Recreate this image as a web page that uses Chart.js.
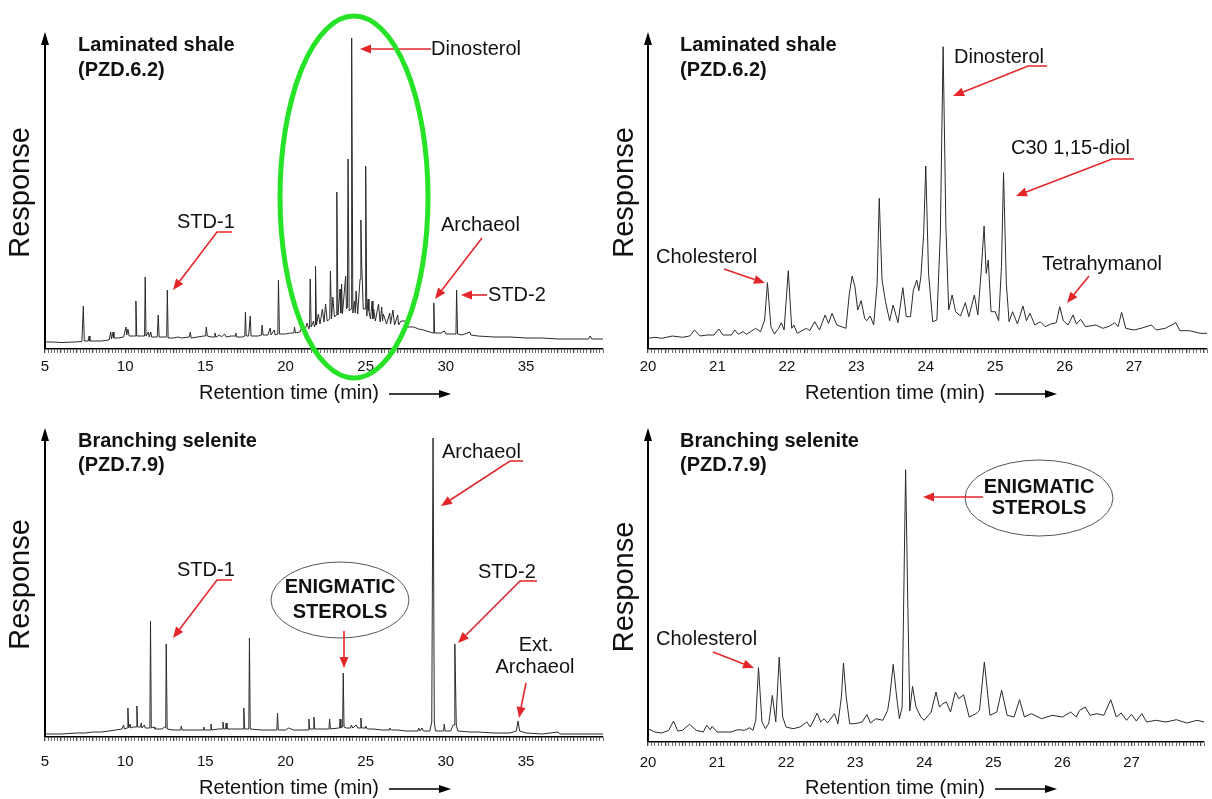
<!DOCTYPE html>
<html><head><meta charset="utf-8">
<script src="https://cdn.jsdelivr.net/npm/chart.js@4.4.1/dist/chart.umd.min.js"></script>
<style>
html,body{margin:0;padding:0;background:#fff;}
#wrap{position:relative;width:1212px;height:799px;overflow:hidden;background:#fff;}
#wrap canvas{position:absolute;left:0;top:0;}
</style></head><body><div id="wrap">
<canvas id="pTL" width="1212" height="799"></canvas>
<canvas id="pTR" width="1212" height="799"></canvas>
<canvas id="pBL" width="1212" height="799"></canvas>
<canvas id="pBR" width="1212" height="799"></canvas>
</div>
<script>
// ---------- DATA (retention time in min, response in relative units) ----------
// Laminated shale (PZD.6.2), full run 5-40 min
const shaleFullTime = [5.0,5.5,6.0,6.8,7.3,7.39,7.45,7.7,7.75,7.8,8.5,9.0,9.1,9.15,9.25,9.3,9.6,9.9,10.05,10.1,10.17,10.25,10.5,10.63,10.67,10.72,11.0,11.21,11.25,11.3,11.45,11.5,11.6,11.65,12.0,12.06,12.12,12.3,12.59,12.63,12.68,13.0,13.3,13.5,14.0,14.06,14.12,14.5,14.9,15.02,15.06,15.12,15.4,15.56,15.6,15.65,15.9,16.0,16.2,16.3,16.6,16.86,16.9,16.95,17.3,17.46,17.5,17.55,17.7,17.8,17.85,18.3,18.5,18.54,18.6,18.9,19.04,19.1,19.3,19.35,19.52,19.56,19.62,20.0,20.3,20.52,20.56,20.62,20.9,21.0,21.2,21.35,21.45,21.5,21.54,21.6,21.75,21.8,21.84,21.87,21.93,22.05,22.15,22.3,22.4,22.5,22.6,22.76,22.8,22.87,22.95,23.05,23.16,23.2,23.27,23.4,23.45,23.5,23.55,23.75,23.8,23.86,23.9,23.97,24.09,24.125,24.2,24.3,24.35,24.4,24.5,24.65,24.7,24.75,24.85,24.96,25.0,25.07,25.15,25.2,25.3,25.4,25.45,25.5,25.6,25.8,25.9,26.0,26.05,26.1,26.3,26.5,26.55,26.7,26.8,27.0,27.05,27.2,27.5,27.6,28.0,28.3,28.6,29.0,29.2,29.25,29.3,29.7,29.9,30.0,30.5,30.63,30.67,30.73,31.0,31.5,31.55,32.0,33.0,34.0,35.0,36.0,37.0,38.0,38.9,39.0,39.1,39.8];
const shaleFullResp = [7,7,6.5,7,7.5,43,8,8,13,8,8,9,17,10,17,11,11,12,22,14,20,13,13,13,48,13,13,13,72,13,17,12,17,12,12,34,12,12,12,59,11,11,12,11,12,17,11,12,13,13,22,13,12,12,16,12,14,12,15,12,13,13,16,12,12,13,37,13,13,33,13,13,14,24,14,14,21,14,19,14,15,69,15,15,16,16,22,16,17,21,18,26,20,22,70,22,28,22,24,83,24,35,25,40,27,45,28,30,78,30,52,32,34,157,34,60,36,65,35,73,40,42,190,38,40,311,36,48,36,58,35,70,129,85,40,40,183,33,50,38,30,48,30,40,28,45,27,42,28,35,25,36,25,39,24,34,24,28,28,22,22,20,19,17,16,46,16,16,18,15,15,15,59,15,14,17,14,13,12,12,11,11,10,10,10,13,10,10];

// Laminated shale (PZD.6.2), expanded 20-28 min
const shaleZoomTime = [20.0,20.1,20.2,20.35,20.5,20.6,20.67,20.75,20.85,20.95,21.02,21.08,21.2,21.25,21.3,21.37,21.42,21.55,21.62,21.68,21.72,21.77,21.82,21.88,21.92,21.96,22.02,22.07,22.1,22.15,22.28,22.33,22.4,22.47,22.55,22.6,22.65,22.72,22.85,22.9,22.94,22.98,23.02,23.07,23.12,23.15,23.2,23.25,23.3,23.33,23.37,23.42,23.48,23.53,23.6,23.67,23.72,23.78,23.82,23.87,23.9,23.93,23.97,24.0,24.04,24.1,24.16,24.21,24.25,24.29,24.33,24.38,24.43,24.5,24.57,24.62,24.7,24.75,24.8,24.84,24.87,24.9,24.94,25.0,25.05,25.09,25.12,25.16,25.2,25.25,25.32,25.4,25.45,25.5,25.57,25.65,25.72,25.8,25.88,25.93,25.98,26.05,26.12,26.17,26.23,26.3,26.45,26.55,26.65,26.72,26.77,26.82,26.88,27.0,27.1,27.25,27.32,27.45,27.6,27.66,27.8,27.95,28.05];
const shaleZoomResp = [10.7,11.7,10.7,13,11.7,13,19,13,14,14,20,14,14,19,14.7,17.3,14.7,20.7,17.3,29,66.3,22.3,15,20.7,26.3,19,78.3,20.7,24,15.7,20.7,18.3,27.3,19,34,25.7,35.7,24,20.7,55.7,73,62.3,39,48.3,30.7,28.3,33,24,65.7,150.7,69,47.3,28.3,44,26.3,61.3,32.3,32.3,58.3,69,58.3,72.3,115.7,183,75.7,27.3,29,115.7,302.3,122.3,39,54,37.3,33,46.3,32.3,54,34,79.7,123,75.7,89,37.3,37.3,28.3,82.3,176.3,65.7,27.3,37.3,25,43,28.3,35.7,24,27.3,22.3,25,26.3,42.3,28.3,24,34,25,29.7,22.3,24,20.7,23,26.3,22.3,36.7,20.7,19,20.7,24,19,20.7,26.3,18.3,18.3,15.7,15.7];

// Branching selenite (PZD.7.9), full run 5-40 min
const seleniteFullTime = [5.0,6.0,7.0,7.5,8.0,8.5,9.0,9.4,9.8,9.9,9.95,10.13,10.17,10.22,10.3,10.35,10.5,10.69,10.73,10.78,10.96,11.0,11.05,11.2,11.25,11.54,11.58,11.63,11.8,11.85,12.3,12.45,12.53,12.56,12.62,13.0,13.46,13.5,13.55,14.0,14.5,14.86,14.9,14.95,15.31,15.35,15.4,15.8,16.06,16.1,16.15,16.26,16.3,16.35,17.0,17.37,17.4,17.45,17.71,17.75,17.8,18.5,19.0,19.46,19.5,19.55,20.0,20.2,20.5,21.0,21.42,21.46,21.5,21.73,21.77,21.82,22.3,22.71,22.75,22.8,23.3,23.37,23.4,23.45,23.56,23.6,23.65,23.8,24.06,24.1,24.2,24.4,24.5,24.66,24.7,24.75,24.96,25.0,25.1,25.5,26.0,26.46,26.5,26.6,27.0,27.5,28.0,28.26,28.3,28.4,28.5,28.6,29.0,29.12,29.2,29.28,29.35,29.86,29.9,29.95,30.3,30.45,30.52,30.56,30.65,30.75,31.5,32.0,33.0,34.0,34.4,34.5,34.6,35.0,36.0,36.5,37.0,37.1,38.0,39.8];
const seleniteFullResp = [3,3,4,4,5,5,6,7,8,12,8,9,29,9,13,9,10,10,31,10,10,14,9,12,9,9,116,9,10,8,8,10,9,93,8,7,7,11,7,7,7,7,10,7,7,13,7,8,8,15,8,8,14,8,8,8,29,8,8,99,8,7,7,7,24,7,7,9,7,7,7,18,8,8,20,8,8,8,18,8,9,9,18,9,10,64,10,9,9,12,9,12,9,9,19,9,9,11,8,8,7,7,9,7,7,6,6,6,9,6,9,6,6,15,299,15,6,6,13,6,6,12,12,93,12,6,5,5,4,4,6,16,6,4,3,4,5,3,3,3];

// Branching selenite (PZD.7.9), expanded 20-28 min
const seleniteZoomTime = [20.0,20.1,20.2,20.3,20.37,20.43,20.5,20.6,20.7,20.8,20.85,20.9,20.93,21.0,21.2,21.3,21.4,21.47,21.52,21.56,21.6,21.65,21.7,21.75,21.8,21.85,21.9,21.95,22.0,22.1,22.2,22.3,22.35,22.45,22.5,22.55,22.6,22.7,22.75,22.8,22.83,22.87,22.92,23.0,23.1,23.17,23.22,23.3,23.4,23.47,23.5,23.55,23.6,23.64,23.68,23.71,23.73,23.76,23.79,23.83,23.88,23.95,24.0,24.1,24.17,24.22,24.27,24.32,24.38,24.45,24.5,24.57,24.65,24.75,24.8,24.87,24.95,25.05,25.12,25.2,25.3,25.38,25.45,25.55,25.7,25.85,26.0,26.12,26.2,26.25,26.33,26.4,26.5,26.6,26.7,26.78,26.85,26.93,27.0,27.07,27.15,27.22,27.35,27.5,27.65,27.8,27.95,28.05];
const seleniteZoomResp = [13.3,10,9,11.7,21,11,11.7,17.7,11.7,10,16.7,12.3,15.7,10,10,12.3,11.7,14.3,11.7,21.7,74.3,20,13.3,19,46.7,20,85,25,15,13.3,15,20,15,29,20,23.3,19,28.3,18.3,45,79,45,18.3,18.3,20,27.3,19,23.3,21.7,31.7,45,77.7,45,23.3,35,178,272.3,145,31,55.7,35,25,21.7,30,50,35,38.3,40,30,50,43.3,47.3,25,28.3,31.7,80,26.7,30,51.7,26.7,25,42.3,25,28.3,23.3,26.7,25,30,25,31.7,35,26.7,28.3,26.7,42.3,25,29,21.7,27.7,21,28.3,20,21.7,20,22.3,19,21.7,20];

// Axis tick settings
const wideRange = [5, 39.8];
const zoomRange = [20, 28.05];
const wideTickStep = 0.2;   // minor ticks
const zoomTickStep = 0.05;
const wideLabelEvery = 5;   // labelled ticks
const zoomLabelEvery = 1;

// ---------- DRAWING HELPERS ----------
const FONT = '"Liberation Sans", Arial, Helvetica, sans-serif';
const RED = '#e3262a';

function txt(ctx, s, x, y, size, opts) {
  opts = opts || {};
  ctx.save();
  ctx.font = (opts.bold ? 'bold ' : '') + size + 'px ' + FONT;
  ctx.fillStyle = opts.color || '#111';
  ctx.textAlign = opts.align || 'left';
  ctx.textBaseline = 'middle';
  if (opts.rotate) { ctx.translate(x, y); ctx.rotate(opts.rotate); ctx.fillText(s, 0, 0); }
  else ctx.fillText(s, x, y);
  ctx.restore();
}
function arrow(ctx, pts, color, lw, headLen, headW) {
  ctx.save();
  ctx.strokeStyle = color; ctx.fillStyle = color; ctx.lineWidth = lw;
  const n = pts.length;
  const [x1, y1] = pts[n - 2], [x2, y2] = pts[n - 1];
  const ang = Math.atan2(y2 - y1, x2 - x1);
  const bx = x2 - headLen * Math.cos(ang), by = y2 - headLen * Math.sin(ang);
  ctx.beginPath(); ctx.moveTo(pts[0][0], pts[0][1]);
  for (let i = 1; i < n - 1; i++) ctx.lineTo(pts[i][0], pts[i][1]);
  ctx.lineTo(bx, by); ctx.stroke();
  ctx.beginPath(); ctx.moveTo(x2, y2);
  ctx.lineTo(bx + headW * Math.sin(ang), by - headW * Math.cos(ang));
  ctx.lineTo(bx - headW * Math.sin(ang), by + headW * Math.cos(ang));
  ctx.closePath(); ctx.fill();
  ctx.restore();
}
function ellipse(ctx, cx, cy, rx, ry, color, lw) {
  ctx.save(); ctx.strokeStyle = color; ctx.lineWidth = lw;
  ctx.beginPath(); ctx.ellipse(cx, cy, rx, ry, 0, 0, Math.PI * 2); ctx.stroke(); ctx.restore();
}
function axisDecor(ctx, area, titleCx, titleY, respX) {
  ctx.save();
  ctx.strokeStyle = '#000'; ctx.fillStyle = '#000'; ctx.lineWidth = 2;
  ctx.beginPath(); ctx.moveTo(area.left, area.bottom); ctx.lineTo(area.left, area.top + 10); ctx.stroke();
  ctx.beginPath(); ctx.moveTo(area.left, area.top); ctx.lineTo(area.left - 4, area.top + 13); ctx.lineTo(area.left + 4, area.top + 13); ctx.closePath(); ctx.fill();
  ctx.restore();
  txt(ctx, 'Response', respX, (area.top + area.bottom) / 2 + 2, 29, { align: 'center', rotate: -Math.PI / 2 });
  txt(ctx, 'Retention time (min)', titleCx, titleY, 20, { align: 'center' });
  arrow(ctx, [[titleCx + 100, titleY + 1], [titleCx + 162, titleY + 1]], '#000', 1.5, 12, 4);
}

const annotations = {
  pTL(ctx, a) {
    axisDecor(ctx, a, 289, 393, 21);
    txt(ctx, 'Laminated shale', 78, 45, 20, { bold: true });
    txt(ctx, '(PZD.6.2)', 78, 70, 20, { bold: true });
    txt(ctx, 'Dinosterol', 431, 49, 20);
    arrow(ctx, [[431, 49], [360, 49]], RED, 1.6, 11, 4.5);
    txt(ctx, 'STD-1', 177, 222, 20);
    arrow(ctx, [[232, 232], [217, 232], [173, 290]], RED, 1.6, 11, 4.5);
    txt(ctx, 'Archaeol', 441, 225, 20);
    arrow(ctx, [[482, 238], [435, 299]], RED, 1.6, 11, 4.5);
    txt(ctx, 'STD-2', 488, 295, 20);
    arrow(ctx, [[487, 295], [461, 295]], RED, 1.6, 11, 4.5);
    ellipse(ctx, 354, 197, 74, 181, '#27e327', 5);
  },
  pTR(ctx, a) {
    axisDecor(ctx, a, 895, 393, 625);
    txt(ctx, 'Laminated shale', 680, 45, 20, { bold: true });
    txt(ctx, '(PZD.6.2)', 680, 70, 20, { bold: true });
    txt(ctx, 'Dinosterol', 954, 57, 20);
    arrow(ctx, [[1047, 66], [1028, 66], [953, 96]], RED, 1.6, 11, 4.5);
    txt(ctx, 'C30 1,15-diol', 1011, 148, 20);
    arrow(ctx, [[1134, 159], [1112, 159], [1016, 196]], RED, 1.6, 11, 4.5);
    txt(ctx, 'Cholesterol', 656, 257, 20);
    arrow(ctx, [[724, 269], [765, 283]], RED, 1.6, 11, 4.5);
    txt(ctx, 'Tetrahymanol', 1042, 264, 20);
    arrow(ctx, [[1089, 276], [1067, 303]], RED, 1.6, 11, 4.5);
  },
  pBL(ctx, a) {
    axisDecor(ctx, a, 289, 788, 21);
    txt(ctx, 'Branching selenite', 78, 441, 20, { bold: true });
    txt(ctx, '(PZD.7.9)', 78, 465, 20, { bold: true });
    txt(ctx, 'STD-1', 177, 570, 20);
    arrow(ctx, [[232, 580], [217, 580], [173, 638]], RED, 1.6, 11, 4.5);
    ellipse(ctx, 340, 600, 69, 38, '#555', 1);
    txt(ctx, 'ENIGMATIC', 340, 587, 20, { bold: true, align: 'center' });
    txt(ctx, 'STEROLS', 340, 612, 20, { bold: true, align: 'center' });
    arrow(ctx, [[344, 631], [344, 668]], RED, 1.6, 11, 4.5);
    txt(ctx, 'Archaeol', 442, 452, 20);
    arrow(ctx, [[523, 461], [510, 461], [441, 506]], RED, 1.6, 11, 4.5);
    txt(ctx, 'STD-2', 478, 572, 20);
    arrow(ctx, [[537, 581], [520, 581], [458, 643]], RED, 1.6, 11, 4.5);
    txt(ctx, 'Ext.', 536, 645, 20, { align: 'center' });
    txt(ctx, 'Archaeol', 535, 667, 20, { align: 'center' });
    arrow(ctx, [[526, 683], [519, 718]], RED, 1.6, 11, 4.5);
  },
  pBR(ctx, a) {
    axisDecor(ctx, a, 895, 788, 625);
    txt(ctx, 'Branching selenite', 680, 441, 20, { bold: true });
    txt(ctx, '(PZD.7.9)', 680, 465, 20, { bold: true });
    ellipse(ctx, 1039, 498, 74, 38, '#555', 1);
    txt(ctx, 'ENIGMATIC', 1039, 487, 20, { bold: true, align: 'center' });
    txt(ctx, 'STEROLS', 1039, 508, 20, { bold: true, align: 'center' });
    arrow(ctx, [[983, 497], [923, 497]], RED, 1.6, 11, 4.5);
    txt(ctx, 'Cholesterol', 656, 639, 20);
    arrow(ctx, [[713, 652], [754, 668]], RED, 1.6, 11, 4.5);
  }
};

const AXIS_H = 42;
function isMultiple(v, m) { const q = v / m; return Math.abs(q - Math.round(q)) < 1e-6; }

function makePanel(id, time, resp, box, range, step, labelEvery, majorEvery, labelPad) {
  const pts = time.map((t, i) => ({ x: t, y: resp[i] }));
  new Chart(document.getElementById(id), {
    type: 'line',
    data: { datasets: [{ data: pts, borderColor: '#2a2a2a', borderWidth: 1, pointRadius: 0, tension: 0, fill: false }] },
    options: {
      responsive: false, animation: false, devicePixelRatio: 1,
      layout: { padding: { left: box.left, right: 1212 - box.right, top: box.top, bottom: 799 - box.bottom - AXIS_H } },
      plugins: { legend: { display: false }, tooltip: { enabled: false } },
      scales: {
        x: {
          type: 'linear', min: range[0], max: range[1],
          afterFit: (s) => { s.height = AXIS_H; },
          border: { display: true, color: '#000', width: 1.5 },
          grid: {
            display: true, drawOnChartArea: false, drawTicks: true, tickLength: 4,
            color: '#444',
            lineWidth: (c) => (c.tick && isMultiple(c.tick.value, majorEvery)) ? 1.3 : 0.8
          },
          ticks: {
            stepSize: step, autoSkip: false, maxRotation: 0, minRotation: 0, maxTicksLimit: 1000,
            color: '#111', padding: labelPad, font: { family: FONT, size: 15 },
            callback: (v) => (isMultiple(v, labelEvery) && v < range[1] - 0.3) ? String(Math.round(v)) : ''
          }
        },
        y: { display: false, min: 0, max: box.bottom - box.top }
      }
    },
    plugins: [{ id: 'decor', afterDraw(chart) { annotations[id](chart.ctx, chart.chartArea); } }]
  });
}

makePanel('pTL', shaleFullTime, shaleFullResp, { left: 45, right: 603, top: 32, bottom: 349 }, wideRange, wideTickStep, wideLabelEvery, 1, 5);
makePanel('pTR', shaleZoomTime, shaleZoomResp, { left: 648, right: 1212, top: 32, bottom: 349 }, zoomRange, zoomTickStep, zoomLabelEvery, 0.25, 5);
makePanel('pBL', seleniteFullTime, seleniteFullResp, { left: 45, right: 603, top: 428, bottom: 737 }, wideRange, wideTickStep, wideLabelEvery, 1, 12);
makePanel('pBR', seleniteZoomTime, seleniteZoomResp, { left: 648, right: 1212, top: 428, bottom: 742 }, zoomRange, zoomTickStep, zoomLabelEvery, 0.25, 8);
</script>
</body></html>
